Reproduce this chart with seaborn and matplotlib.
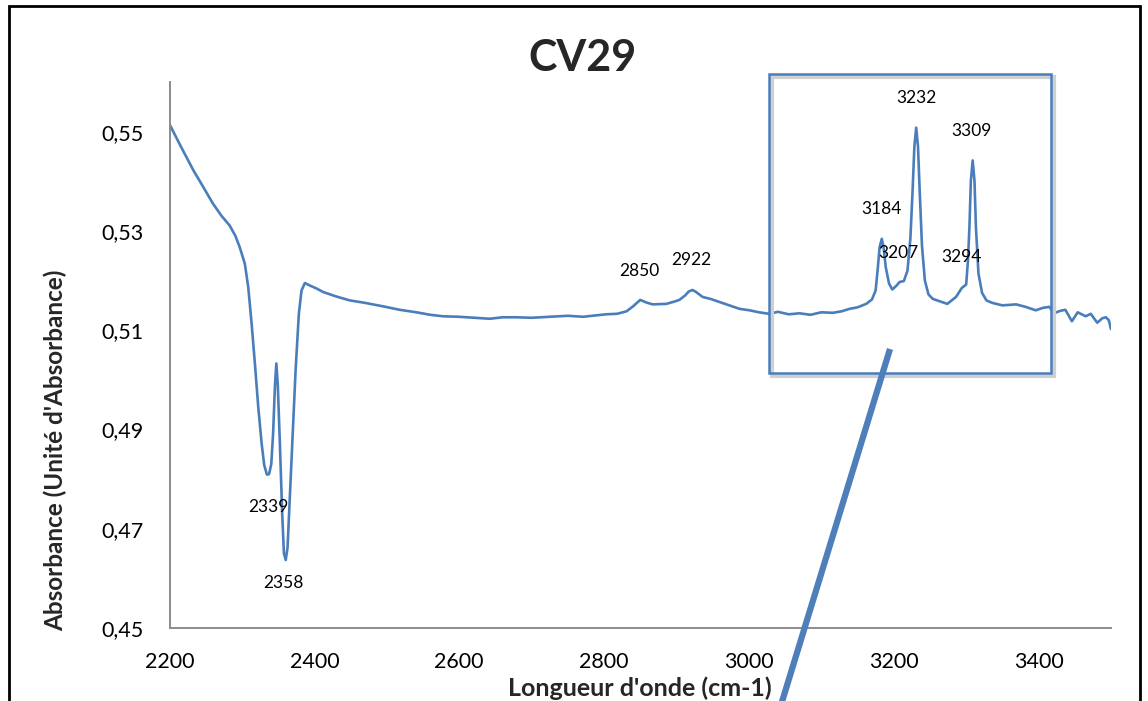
import matplotlib
matplotlib.use("Agg")
import matplotlib.pyplot as plt
from matplotlib.patches import Rectangle
from matplotlib.lines import Line2D
from matplotlib.ticker import FuncFormatter
import seaborn as sns
import pandas as pd

# FTIR spectrum of sample CV29 (wavenumber in cm-1, absorbance)
wavenumber = [
    2200, 2215, 2233, 2246, 2260, 2272, 2283, 2291, 2297, 2304, 2308.7, 2313.4,
    2317.9, 2322.5, 2327.2, 2330.8, 2334.5, 2337.5, 2340.5, 2343, 2345.5, 2347.5,
    2349.5, 2352.4, 2355.6, 2358, 2360.5, 2363, 2366.2, 2369.9, 2374.1, 2378.6,
    2382.3, 2386.9, 2393.8, 2403, 2412, 2430, 2449, 2470, 2495, 2518, 2541,
    2560, 2578, 2600, 2620, 2642, 2660, 2679, 2700, 2725, 2750, 2771, 2790,
    2803, 2818, 2831, 2840, 2850, 2858, 2867, 2886, 2898, 2904, 2912, 2917,
    2922, 2927, 2936, 2947, 2959, 2973, 2987, 3001, 3014, 3028, 3040, 3055,
    3070, 3085, 3100, 3116, 3128, 3139, 3150, 3162, 3170, 3175, 3178, 3180.5,
    3183.5, 3186, 3189, 3193.5, 3198, 3204, 3208, 3214, 3219, 3223, 3226,
    3228.5, 3231, 3233.5, 3236, 3239, 3243, 3248, 3254, 3264, 3274, 3280,
    3286, 3294, 3300, 3302.5, 3304.5, 3306.5, 3309, 3311.5, 3313.5, 3317,
    3322, 3328, 3336, 3350, 3369, 3382, 3396, 3406, 3415, 3421, 3430, 3437,
    3446, 3454, 3465, 3472, 3481, 3488, 3493, 3497, 3500,
]
absorbance = [
    0.5515, 0.5472, 0.5422, 0.5390, 0.5355, 0.5330, 0.5311, 0.5290, 0.5267, 0.5234, 0.5187, 0.5113,
    0.5033, 0.4946, 0.4872, 0.4828, 0.4809, 0.4810, 0.4830, 0.4890, 0.4985, 0.5033,
    0.4990, 0.4872, 0.4731, 0.4650, 0.4637, 0.4662, 0.4764, 0.4885, 0.5019, 0.5133,
    0.5180, 0.5195, 0.5190, 0.5184, 0.5177, 0.5168, 0.5160, 0.5155, 0.5148, 0.5141, 0.5136,
    0.5131, 0.5128, 0.5127, 0.5125, 0.5123, 0.5126, 0.5126, 0.5125, 0.5127, 0.5129, 0.5127, 0.5130,
    0.5132, 0.5133, 0.5138, 0.5148, 0.5161, 0.5156, 0.5152, 0.5153, 0.5158, 0.5161, 0.5170, 0.5178,
    0.5181, 0.5177, 0.5167, 0.5163, 0.5157, 0.5150, 0.5143, 0.5140, 0.5136, 0.5133, 0.5137, 0.5132,
    0.5134, 0.5131, 0.5136, 0.5135, 0.5138, 0.5143, 0.5146, 0.5153, 0.5162, 0.5180, 0.5225, 0.5267,
    0.5284, 0.5267, 0.5227, 0.5194, 0.5182, 0.5190, 0.5197, 0.5199, 0.5220, 0.5285, 0.5380,
    0.5470, 0.5508, 0.5470, 0.5375, 0.5270, 0.5200, 0.5172, 0.5163, 0.5158, 0.5153, 0.5160,
    0.5167, 0.5185, 0.5192, 0.5240, 0.5307, 0.5401, 0.5442, 0.5401, 0.5307, 0.5214,
    0.5175, 0.5160, 0.5155, 0.5150, 0.5152, 0.5147, 0.5140, 0.5145, 0.5147, 0.5134, 0.5139, 0.5141,
    0.5118, 0.5136, 0.5128, 0.5133, 0.5115, 0.5124, 0.5126, 0.5120, 0.5102,
]

# Peak annotations: label text and where each label sits (wavenumber, absorbance)
peak_labels = ["2339", "2358", "2850", "2922", "3184", "3207", "3232", "3309", "3294"]
label_x = [2337, 2357, 2849, 2921, 3183, 3206, 3231, 3308, 3293]
label_y = [0.4743, 0.4591, 0.5220, 0.5242, 0.5344, 0.5255, 0.5568, 0.5501, 0.5248]

y_ticks = [0.45, 0.47, 0.49, 0.51, 0.53, 0.55]
x_ticks = [2200, 2400, 2600, 2800, 3000, 3200, 3400]

sns.set_style("white")
plt.rcParams["font.family"] = ["Lato", "DejaVu Sans"]

W, H = 1148, 701
fig = plt.figure(figsize=(W / 100, H / 100), dpi=100)

def fx(px):
    return px / W

def fy(py):
    return 1 - py / H

ax = fig.add_axes([fx(169.5), fy(628), fx(1111) - fx(169.5), fy(82) - fy(628)])

blue = "#4A7EBB"
df = pd.DataFrame({"wavenumber": wavenumber, "absorbance": absorbance})
sns.lineplot(data=df, x="wavenumber", y="absorbance", ax=ax, color=blue,
             linewidth=1.9, sort=False)

ax.set_xlim(2200, 3500)
ax.set_ylim(0.45, 0.56)
ax.set_xticks(x_ticks)
ax.set_yticks(y_ticks)
ax.yaxis.set_major_formatter(FuncFormatter(lambda v, p: f"{v:.2f}".replace(".", ",")))
ax.set_xlabel("")
ax.set_ylabel("")

grey = "#8C8C8C"
for side in ("top", "right"):
    ax.spines[side].set_visible(False)
for side in ("left", "bottom"):
    ax.spines[side].set_color(grey)
    ax.spines[side].set_linewidth(1.4)
ax.tick_params(axis="both", direction="out", length=6.5, width=1.4, color=grey,
               labelsize=15.5, labelcolor="black", pad=11)
ax.tick_params(axis="y", pad=12)

for txt, lx, ly in zip(peak_labels, label_x, label_y):
    ax.text(lx, ly, txt, ha="center", va="center", fontsize=12.5, color="black",
            clip_on=False)

# Title and axis titles
fig.text(fx(582), fy(58), "CV29", ha="center", va="center", fontsize=31,
         fontweight="bold")
fig.text(fx(640), fy(688), "Longueur d'onde (cm-1)", ha="center", va="center",
         fontsize=18, fontweight="bold")
fig.text(fx(55), fy(450), "Absorbance (Unité d'Absorbance)", ha="center",
         va="center", rotation=90, fontsize=17.5, fontweight="bold")

# Zoom frame around the N-H / O-H region, with a soft shadow
shadow = Rectangle((fx(772), fy(376)), fx(1051) - fx(769), fy(74) - fy(373),
                   transform=fig.transFigure, fill=False, edgecolor="#D0D0D0",
                   linewidth=3, zorder=4)
frame = Rectangle((fx(769), fy(373)), fx(1051) - fx(769), fy(74) - fy(373),
                  transform=fig.transFigure, fill=False, edgecolor=blue,
                  linewidth=1.8, zorder=5)
fig.patches.extend([shadow, frame])

# Pointer line leaving the frame
pointer = Line2D([fx(890), fx(781)], [fy(349), fy(705)], transform=fig.transFigure,
                 color="#4F7FBA", linewidth=4.5, solid_capstyle="butt", zorder=6)
fig.lines.append(pointer)

# Outer chart border
border = Rectangle((fx(8.5), fy(720)), fx(1140) - fx(8.5), fy(5.5) - fy(720),
                   transform=fig.transFigure, fill=False, edgecolor="black",
                   linewidth=2, zorder=7, clip_on=False)
fig.patches.append(border)

fig.savefig("out.png", dpi=100, facecolor="white")
